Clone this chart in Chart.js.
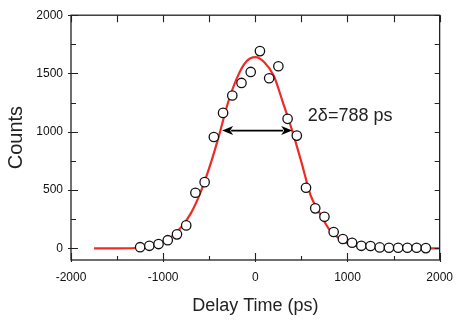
<!DOCTYPE html>
<html>
<head>
<meta charset="utf-8">
<script src="https://cdn.jsdelivr.net/npm/chart.js@4.4.1/dist/chart.umd.min.js"></script>
<style>
html,body{margin:0;padding:0;background:#fff;}
canvas{display:block;}
</style>
</head>
<body>
<canvas id="c" width="463" height="328"></canvas>
<script>
// Measured points (open circles)
const delayTimes = [-1250,-1150,-1050,-950,-850,-750,-650,-550,-450,-350,-250,-150,-50,
                    50,150,250,350,450,550,650,750,850,950,1050,1150,1250,1350,1450,1550,1650,1750,1850];
const counts = [10,22,37,70,120,197,477,568,955,1162,1311,1419,1513,
                1692,1459,1562,1111,967,520,343,271,140,80,48,22,20,8,5,5,5,5,2];
// Fitted curve (red line)
const fitX = [-1750,-1500,-1250,-1100,-1000,-900,-800,-700,-600,-500,-400,-300,-200,-100,0,
              100,200,300,400,500,600,700,800,900,1000,1100,1200,1400,1700,2000];
const fitY = [0,0,5,22,52,105,185,300,470,690,950,1240,1460,1600,1640,
              1595,1480,1250,1010,740,455,300,165,90,42,20,10,3,0,0];
// Tick labels
const xTickLabels = [-2000,-1000,0,1000,2000];
const yTickLabels = [0,500,1000,1500,2000];
// FWHM annotation
const fwhmText = "2\u03B4=788 ps";
const arrowX = [-360, 400];
const arrowY = 1010;

const FONT = "'Liberation Sans', Arial, sans-serif";

const framePlugin = {
  id: 'frame',
  afterDatasetsDraw(chart) {
    const {ctx, chartArea: a, scales: {x, y}} = chart;
    ctx.save();
    ctx.strokeStyle = '#222';
    ctx.lineWidth = 1.3;
    ctx.strokeRect(a.left, a.top, a.right - a.left, a.bottom - a.top);
    ctx.lineWidth = 1.1;
    ctx.beginPath();
    // x ticks (bottom + top)
    for (let v = -2000; v <= 2000; v += 500) {
      const px = Math.round(x.getPixelForValue(v)) + 0.5;
      const major = v % 1000 === 0;
      ctx.moveTo(px, a.bottom + (major ? 2 : 0));
      ctx.lineTo(px, a.bottom - (major ? 7 : 4));
      ctx.moveTo(px, a.top);
      ctx.lineTo(px, a.top + 7);
    }
    // y ticks (left + right)
    for (let v = 0; v <= 2000; v += 250) {
      const py = Math.round(y.getPixelForValue(v)) + 0.5;
      const major = v % 500 === 0;
      ctx.moveTo(a.left - (major ? 3 : 0), py);
      ctx.lineTo(a.left + (major ? 7 : 5), py);
      ctx.moveTo(a.right, py);
      ctx.lineTo(a.right - 5, py);
    }
    ctx.stroke();

    // double-headed arrow
    const x1 = x.getPixelForValue(arrowX[0]);
    const x2 = x.getPixelForValue(arrowX[1]);
    const ay = y.getPixelForValue(arrowY);
    const hl = 11, hw = 4.5;
    ctx.strokeStyle = '#000';
    ctx.fillStyle = '#000';
    ctx.lineWidth = 1.8;
    ctx.beginPath();
    ctx.moveTo(x1 + hl - 2, ay);
    ctx.lineTo(x2 - hl + 2, ay);
    ctx.stroke();
    ctx.beginPath();
    ctx.moveTo(x1, ay);
    ctx.lineTo(x1 + hl, ay - hw);
    ctx.lineTo(x1 + hl - 3, ay);
    ctx.lineTo(x1 + hl, ay + hw);
    ctx.closePath();
    ctx.fill();
    ctx.beginPath();
    ctx.moveTo(x2, ay);
    ctx.lineTo(x2 - hl, ay - hw);
    ctx.lineTo(x2 - hl + 3, ay);
    ctx.lineTo(x2 - hl, ay + hw);
    ctx.closePath();
    ctx.fill();

    // label
    ctx.font = '18px ' + FONT;
    ctx.fillStyle = '#222';
    ctx.textAlign = 'left';
    ctx.textBaseline = 'middle';
    ctx.fillText(fwhmText, x.getPixelForValue(570), y.getPixelForValue(1134));
    ctx.restore();
  }
};

new Chart(document.getElementById('c'), {
  type: 'scatter',
  data: {
    datasets: [
      {
        label: 'data',
        data: delayTimes.map((t, i) => ({x: t, y: counts[i]})),
        showLine: false,
        pointRadius: 4.7,
        pointBorderWidth: 1.3,
        pointBorderColor: '#111',
        pointBackgroundColor: '#fff',
        order: 0
      },
      {
        label: 'fit',
        data: fitX.map((t, i) => ({x: t, y: fitY[i]})),
        showLine: true,
        borderColor: '#ee2b25',
        borderWidth: 2.2,
        pointRadius: 0,
        cubicInterpolationMode: 'monotone',
        order: 1
      }
    ]
  },
  options: {
    responsive: false,
    animation: false,
    layout: {padding: {top: 15, right: 21, left: 0, bottom: 0}},
    plugins: {legend: {display: false}, tooltip: {enabled: false}},
    scales: {
      x: {
        type: 'linear',
        min: -2000, max: 2000,
        afterBuildTicks: s => { s.ticks = xTickLabels.map(v => ({value: v})); },
        afterFit: s => { s.height = 68; },
        grid: {display: false, drawTicks: false},
        border: {display: false},
        ticks: {padding: 10, font: {family: FONT, size: 12}, color: '#111', maxRotation: 0,
                callback: v => String(v)},
        title: {display: true, text: 'Delay Time (ps)', font: {family: FONT, size: 18}, color: '#222', padding: {top: 0, bottom: 11}}
      },
      y: {
        type: 'linear',
        min: -100, max: 2000,
        afterBuildTicks: s => { s.ticks = yTickLabels.map(v => ({value: v})); },
        afterFit: s => { s.width = 71; },
        grid: {display: false, drawTicks: false},
        border: {display: false},
        ticks: {padding: 8, font: {family: FONT, size: 12}, color: '#111',
                callback: v => String(v)},
        title: {display: true, text: 'Counts', font: {family: FONT, size: 20}, color: '#222', padding: {top: 4, bottom: 0}}
      }
    }
  },
  plugins: [framePlugin]
});
</script>
</body>
</html>
